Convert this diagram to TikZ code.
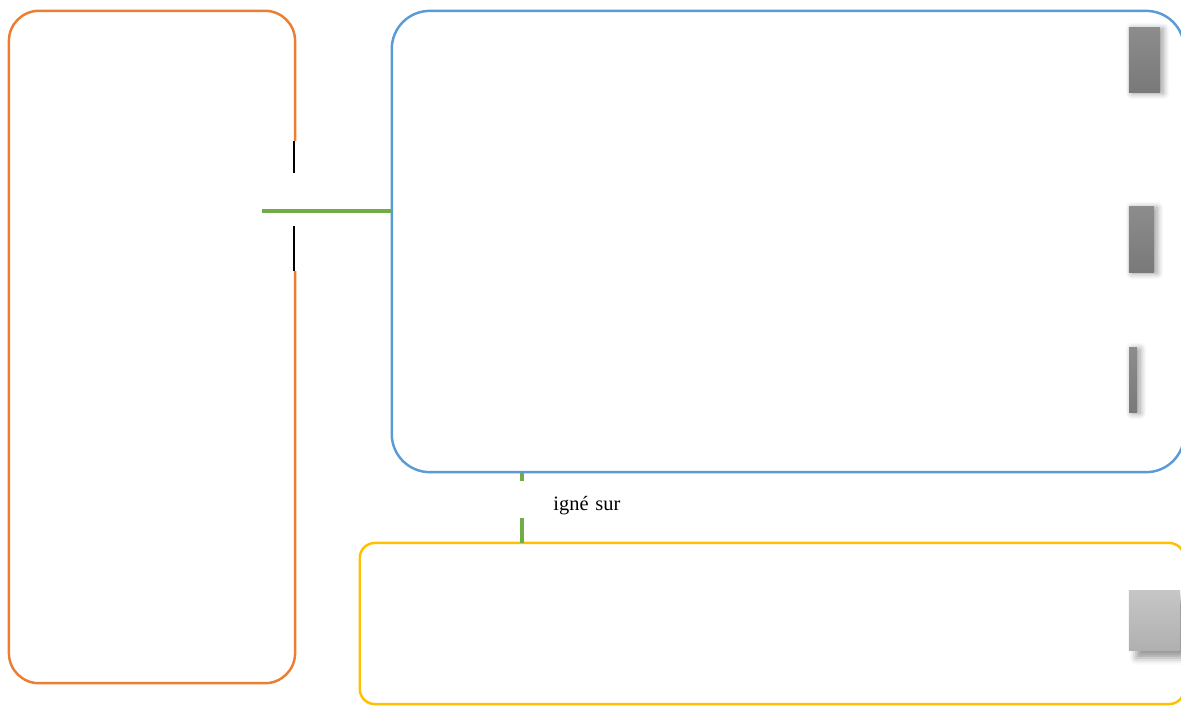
\documentclass[tikz,border=0pt]{standalone}
\usepackage{fontspec}
\setmainfont{Liberation Serif}
\usetikzlibrary{positioning, shadows.blur}

\definecolor{boxorange}{HTML}{ED7D31}
\definecolor{boxblue}{HTML}{5B9BD5}
\definecolor{boxyellow}{HTML}{FFC000}
\definecolor{linkgreen}{HTML}{70AD47}

\begin{document}
\begin{tikzpicture}[x = 0.01cm, y = -0.01cm,
  frame/.style = {draw, line width = 0.7pt, rounded corners = #1, inner sep = 0pt},
  link/.style = {linkgreen, line width = 1pt},
  tab/.style = {inner sep = 0pt, top color = gray!90, bottom color = gray!95!black,
    blur shadow = {shadow xshift = 0.03cm, shadow yshift = -0.01cm, shadow blur steps = 6}}]
\useasboundingbox (0, 0) rectangle (1181, 705);

\node[frame = 0.3cm, boxorange, minimum width = 2.86cm, minimum height = 6.72cm] (side) at (152, 347) {};
\node[frame = 0.38cm, boxblue, minimum width = 7.92cm, minimum height = 4.61cm] (main) at (788, 241.5) {};
\node[frame = 0.15cm, boxyellow, minimum width = 8.24cm, minimum height = 1.61cm] (base) at (772, 623.5) {};

% grey tabs on the right edge
\node[tab, minimum width = 0.31cm, minimum height = 0.64cm] (tab1) at (1144.5, 60) {};
\node[tab, minimum width = 0.25cm, minimum height = 0.65cm] (tab2) at (1141.5, 239.5) {};
\node[tab, minimum width = 0.08cm, minimum height = 0.64cm] (tab3) at (1133, 380) {};
\node[inner sep = 0pt, top color = gray!45, bottom color = gray!62,
  blur shadow = {shadow xshift = 0.07cm, shadow yshift = -0.08cm, shadow blur steps = 4},
  minimum width = 0.51cm, minimum height = 0.59cm] (tab4) at (1154.5, 620.5) {};

% break in the orange edge
\draw[white, line width = 2pt] (295, 141) -- (295, 271);
\draw[black, line width = 0.8pt] (294, 141) -- (294, 173);
\draw[black, line width = 0.8pt] (294, 226) -- (294, 271);

% links
\coordinate (hook) at (262, 211);
\draw[link] (hook) -- (hook -| main.west);
\coordinate (drop) at (522, 543);
\draw[link] (drop |- main.south) -- (drop);

\node[fill = white, inner sep = 0pt, text width = 1.05cm, align = right,
  text height = 0.29cm, text depth = 0.08cm, anchor = base east,
  font = \fontsize{5.8}{7}\selectfont] (sur) at (621, 510) {igné sur};
\end{tikzpicture}
\end{document}
